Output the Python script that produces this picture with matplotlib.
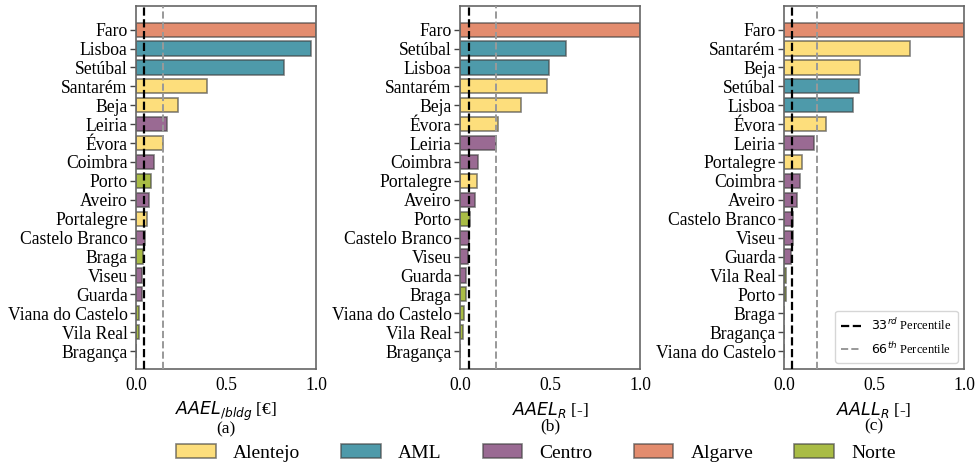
import matplotlib
matplotlib.use("Agg")
import matplotlib.pyplot as plt
from matplotlib.patches import Patch
from matplotlib.lines import Line2D

plt.rcParams['font.family'] = ['Liberation Serif', 'DejaVu Serif']
plt.rcParams['mathtext.fontset'] = 'dejavusans'

region_colors = {
    'Alentejo': '#FDDE7C',
    'AML': '#4E9AAA',
    'Centro': '#9A6A93',
    'Algarve': '#E38C6E',
    'Norte': '#A9BC45',
}
regions = ['Alentejo', 'AML', 'Centro', 'Algarve', 'Norte']

district_region = {
    'Faro': 'Algarve', 'Lisboa': 'AML', 'Setúbal': 'AML', 'Santarém': 'Alentejo',
    'Beja': 'Alentejo', 'Leiria': 'Centro', 'Évora': 'Alentejo', 'Coimbra': 'Centro',
    'Porto': 'Norte', 'Aveiro': 'Centro', 'Portalegre': 'Alentejo',
    'Castelo Branco': 'Centro', 'Braga': 'Norte', 'Viseu': 'Centro', 'Guarda': 'Centro',
    'Viana do Castelo': 'Norte', 'Vila Real': 'Norte', 'Bragança': 'Norte',
}

# Panel (a)
districts_a = ['Faro', 'Lisboa', 'Setúbal', 'Santarém', 'Beja', 'Leiria', 'Évora',
               'Coimbra', 'Porto', 'Aveiro', 'Portalegre', 'Castelo Branco', 'Braga',
               'Viseu', 'Guarda', 'Viana do Castelo', 'Vila Real', 'Bragança']
values_a = [1.0, 0.974, 0.82, 0.393, 0.235, 0.171, 0.150, 0.098, 0.083, 0.070, 0.063,
            0.050, 0.041, 0.032, 0.031, 0.017, 0.015, 0.0]
p33_a, p66_a = 0.044, 0.152

# Panel (b)
districts_b = ['Faro', 'Setúbal', 'Lisboa', 'Santarém', 'Beja', 'Évora', 'Leiria',
               'Coimbra', 'Portalegre', 'Aveiro', 'Porto', 'Castelo Branco', 'Viseu',
               'Guarda', 'Braga', 'Viana do Castelo', 'Vila Real', 'Bragança']
values_b = [1.0, 0.589, 0.493, 0.481, 0.341, 0.213, 0.198, 0.100, 0.096, 0.083, 0.054,
            0.052, 0.043, 0.033, 0.032, 0.020, 0.018, 0.0]
p33_b, p66_b = 0.050, 0.200

# Panel (c)
districts_c = ['Faro', 'Santarém', 'Beja', 'Setúbal', 'Lisboa', 'Évora', 'Leiria',
               'Portalegre', 'Coimbra', 'Aveiro', 'Castelo Branco', 'Viseu', 'Guarda',
               'Vila Real', 'Porto', 'Braga', 'Bragança', 'Viana do Castelo']
values_c = [1.0, 0.70, 0.42, 0.415, 0.381, 0.232, 0.169, 0.100, 0.087, 0.071, 0.052,
            0.050, 0.041, 0.013, 0.012, 0.0, 0.0, 0.0]
p33_c, p66_c = 0.043, 0.185

xlabels = [r'$AAEL_{/bldg}$ [€]' + '\n(a)', r'$AAEL_R$ [-]' + '\n(b)', r'$AALL_R$ [-]' + '\n(c)']
xticks = [0.0, 0.5, 1.0]
xticklabels = ['0.0', '0.5', '1.0']

fig = plt.figure(figsize=(9.76, 4.63), dpi=100)
lefts = [136 / 976, 460 / 976, 784 / 976]
width = 180 / 976
bottom = 1 - 369 / 463
height = (369 - 6) / 463

panels = [(districts_a, values_a, p33_a, p66_a),
          (districts_b, values_b, p33_b, p66_b),
          (districts_c, values_c, p33_c, p66_c)]

edge = (0.25, 0.25, 0.25, 0.65)
axes = []
for i, (dists, vals, p33, p66) in enumerate(panels):
    ax = fig.add_axes([lefts[i], bottom, width, height])
    axes.append(ax)
    ypos = list(range(len(dists)))
    cols = [region_colors[district_region[d]] for d in dists]
    ax.barh(ypos, vals, height=0.75, color=cols, edgecolor=edge,
            linewidth=1.2, zorder=2)
    ax.axvline(p33, color='black', linestyle='--', linewidth=1.6, zorder=3)
    ax.axvline(p66, color='#999999', linestyle='--', linewidth=1.4, zorder=3)
    ax.set_yticks(ypos)
    ax.set_yticklabels(dists, fontsize=12.7)
    ax.set_ylim(len(dists) - 0.05, -1.25)
    ax.set_xlim(0, 1)
    ax.set_xticks(xticks)
    ax.set_xticklabels(xticklabels, fontsize=12.7)
    ax.tick_params(axis='x', length=0, pad=6)
    ax.tick_params(axis='y', length=4, width=1, color='#444444', pad=2)
    for s in ax.spines.values():
        s.set_color('#666666')
        s.set_linewidth(1.2)
    ax.set_xlabel(xlabels[i], fontsize=12.5, linespacing=0.9, labelpad=4)

# percentile legend in panel (c)
perc_handles = [Line2D([], [], color='black', linestyle='--', linewidth=1.6),
                Line2D([], [], color='#999999', linestyle='--', linewidth=1.4)]
axes[2].legend(perc_handles, [r'$33^{rd}$ Percentile', r'$66^{th}$ Percentile'],
               loc='lower right', fontsize=9, framealpha=0.8, edgecolor='#cccccc',
               handlelength=1.6, borderpad=0.5, labelspacing=0.6)

# region legend at bottom
reg_handles = [Patch(facecolor=region_colors[r], edgecolor=edge,
                     linewidth=1.2) for r in regions]
fig.legend(reg_handles, regions, loc='lower center', bbox_to_anchor=(0.549, -0.035),
           ncol=5, frameon=False, fontsize=14, handlelength=2.05, handleheight=0.7,
           columnspacing=2.1, handletextpad=0.88)

fig.savefig('out.png', dpi=100)
